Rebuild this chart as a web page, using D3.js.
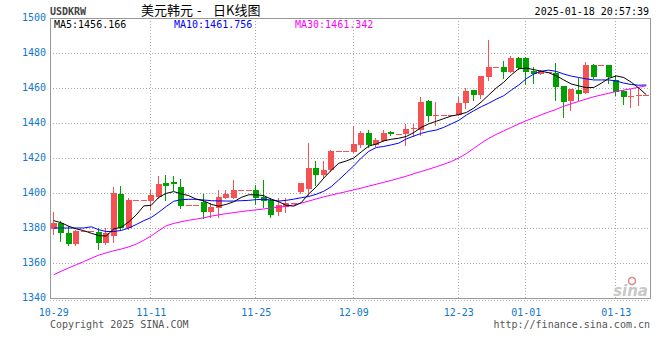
<!DOCTYPE html>
<html>
<head>
<meta charset="utf-8">
<script src="https://cdn.jsdelivr.net/npm/d3@7"></script>
<style>
  body { margin: 0; background: #fff; }
  svg { display: block; }
</style>
</head>
<body>
<div id="container"></div>
<script>
// DATA - daily candles, one slot per row (12-01 has no row)
const dates = [
  "10-29","10-30","10-31","11-01","11-02","11-03","11-04","11-05","11-06","11-07",
  "11-08","11-09","11-10","11-11","11-12","11-13","11-14","11-15","11-16","11-17",
  "11-18","11-19","11-20","11-21","11-22","11-23","11-24","11-25","11-26","11-27",
  "11-28","11-29","11-30","12-02","12-03","12-04","12-05","12-06","12-07","12-08",
  "12-09","12-10","12-11","12-12","12-13","12-14","12-15","12-16","12-17","12-18",
  "12-19","12-20","12-21","12-22","12-23","12-24","12-25","12-26","12-27","12-28",
  "12-29","12-30","12-31","01-01","01-02","01-03","01-04","01-05","01-06","01-07",
  "01-08","01-09","01-10","01-11","01-12","01-13","01-14","01-15","01-16","01-17"
];
const opens = [
  1379.4,1382.7,1377.3,1370.9,1378.5,1378.5,1377.7,1371.6,1375.4,1399.4,
  1380.0,1396.0,1396.0,1395.4,1397.9,1405.5,1406.2,1403.6,1393.1,1393.1,
  1394.9,1389.3,1391.4,1397.1,1397.0,1401.7,1401.7,1401.7,1397.5,1396.0,
  1389.3,1392.2,1394.1,1400.7,1402.3,1414.1,1410.3,1413.1,1424.0,1424.0,
  1423.6,1427.4,1434.5,1427.4,1429.9,1435.0,1433.7,1433.5,1436.4,1436.0,
  1452.6,1444.4,1444.6,1444.6,1444.6,1451.3,1458.9,1456.0,1466.5,1472.2,
  1472.2,1469.0,1477.3,1477.3,1469.9,1468.2,1469.0,1468.4,1461.1,1452.7,
  1458.9,1457.0,1473.1,1473.1,1473.1,1464.6,1458.5,1454.7,1455.6,1455.8
];
const highs = [
  1389.1,1384.0,1380.9,1378.9,1378.5,1378.5,1379.8,1379.8,1403.6,1404.0,
  1397.0,1396.0,1396.0,1401.7,1410.0,1410.3,1409.8,1408.0,1393.1,1393.1,
  1399.4,1394.3,1401.7,1401.7,1407.4,1401.7,1401.7,1404.6,1407.4,1397.0,
  1397.0,1397.0,1394.1,1406.0,1428.7,1418.5,1418.5,1424.5,1424.0,1424.0,
  1438.3,1435.5,1436.0,1431.4,1436.0,1435.5,1433.7,1439.4,1439.3,1455.0,
  1453.1,1452.2,1444.6,1444.6,1455.0,1460.2,1459.0,1467.0,1487.4,1472.2,
  1475.4,1478.5,1477.5,1477.5,1472.2,1470.5,1469.0,1474.1,1461.1,1459.5,
  1465.5,1475.0,1473.5,1473.1,1473.3,1467.4,1459.0,1459.3,1459.8,1456.0
];
const lows = [
  1376.6,1372.6,1370.3,1370.3,1378.5,1378.5,1367.8,1371.0,1372.2,1379.5,
  1379.5,1396.0,1396.0,1390.6,1397.0,1396.0,1401.5,1391.6,1393.1,1393.1,
  1385.9,1386.5,1386.5,1397.1,1397.0,1401.7,1401.7,1393.5,1392.2,1386.5,
  1387.4,1389.3,1394.1,1400.0,1399.0,1404.6,1409.3,1412.5,1424.0,1424.0,
  1423.6,1426.5,1426.3,1427.0,1429.9,1433.0,1433.7,1427.4,1432.7,1433.1,
  1441.1,1438.9,1444.6,1444.6,1444.6,1448.7,1453.1,1454.1,1464.6,1472.2,
  1465.5,1469.0,1471.0,1462.1,1462.9,1468.0,1469.0,1453.1,1443.6,1447.4,
  1453.1,1457.0,1466.0,1473.1,1462.7,1456.0,1450.9,1449.0,1450.3,1455.8
];
const closes = [
  1383.0,1377.4,1370.9,1378.5,1378.5,1378.5,1371.6,1377.0,1400.2,1380.0,
  1396.0,1396.0,1396.0,1398.9,1405.1,1404.2,1405.4,1392.4,1393.1,1393.1,
  1389.3,1392.2,1397.7,1399.4,1401.7,1401.7,1401.7,1397.0,1395.6,1387.4,
  1393.1,1394.1,1394.1,1405.5,1414.3,1410.3,1413.1,1424.0,1424.0,1424.0,
  1428.0,1434.5,1427.4,1430.3,1434.1,1433.5,1433.7,1436.4,1437.0,1452.2,
  1444.2,1444.8,1444.6,1444.6,1451.3,1458.3,1456.0,1466.9,1472.2,1472.2,
  1469.0,1477.3,1471.3,1469.3,1468.0,1470.0,1469.0,1460.7,1452.2,1459.3,
  1456.6,1473.1,1466.5,1473.1,1466.5,1457.9,1454.7,1455.2,1456.0,1456.0
];
const ma5 = [
  1384.2,1383.0,1381.0,1379.5,1378.5,1377.0,1375.7,1375.4,1379.5,1380.4,
  1383.5,1387.5,1392.6,1393.0,1397.5,1399.8,1400.8,1399.5,1398.5,1396.5,
  1395.5,1393.5,1392.5,1393.5,1395.0,1397.5,1399.0,1399.0,1398.5,1396.5,
  1395.0,1393.0,1392.5,1394.5,1399.5,1403.5,1408.5,1413.0,1417.0,1418.3,
  1420.0,1423.5,1426.8,1428.0,1429.8,1430.7,1431.3,1432.3,1434.5,1437.5,
  1439.5,1441.0,1442.5,1444.0,1444.8,1446.0,1448.5,1452.0,1456.0,1460.0,
  1463.3,1467.5,1471.0,1471.4,1470.5,1469.6,1468.7,1467.0,1464.6,1462.3,
  1461.2,1460.2,1460.3,1462.7,1465.5,1466.9,1466.0,1463.3,1460.0,1456.2
];
const ma10 = [
  1380.0,1380.0,1380.0,1380.0,1380.0,1380.7,1379.0,1378.0,1378.0,1378.6,
  1380.0,1382.0,1384.2,1386.0,1389.0,1392.3,1395.3,1396.2,1396.4,1396.4,
  1396.0,1395.6,1395.5,1395.4,1395.4,1395.6,1395.8,1396.2,1396.4,1396.0,
  1395.4,1395.8,1396.5,1397.3,1398.0,1399.3,1401.0,1403.6,1407.5,1411.5,
  1415.5,1420.0,1423.8,1426.0,1426.6,1427.5,1428.5,1430.9,1432.5,1434.1,
  1435.2,1436.0,1437.5,1439.5,1441.5,1444.5,1447.0,1449.3,1451.3,1453.6,
  1455.6,1458.8,1461.7,1465.3,1468.0,1469.6,1470.2,1469.5,1468.0,1466.8,
  1466.0,1465.2,1464.6,1464.6,1464.6,1464.0,1462.8,1462.0,1461.6,1461.7
];
const ma30 = [
  1353.3,1355.3,1357.2,1359.0,1360.8,1362.7,1364.5,1365.8,1367.0,1368.0,
  1369.2,1370.8,1373.0,1375.5,1378.5,1381.3,1382.6,1383.6,1384.4,1385.1,
  1385.8,1386.8,1387.5,1388.2,1388.8,1389.4,1389.9,1390.4,1390.9,1391.4,
  1391.9,1392.4,1393.2,1394.2,1395.4,1396.6,1397.8,1398.8,1399.8,1400.8,
  1401.8,1402.8,1403.9,1405.0,1406.1,1407.2,1408.4,1409.6,1411.0,1412.3,
  1413.6,1415.0,1416.4,1418.0,1420.0,1422.5,1425.5,1428.5,1431.2,1433.5,
  1435.5,1437.5,1439.5,1441.3,1443.0,1444.7,1446.3,1447.8,1449.6,1451.0,
  1452.4,1453.7,1455.0,1456.0,1457.0,1458.0,1458.8,1459.6,1460.4,1461.3
];
const tickDates = ["10-29","11-11","11-25","12-09","12-23","01-01","01-13"];
const yTicks = [1340,1360,1380,1400,1420,1440,1460,1480,1500];
const maNames = ["MA5:1456.166","MA10:1461.756","MA30:1461.342"];

const w = 660, h = 360;
const plot = {left: 50, right: 650, top: 18, bottom: 298};
const upColor = "#f55353", downColor = "#00a000";
const axisBlue = "#1177cc";
const mono = "'DejaVu Sans Mono', monospace";

const svg = d3.select('#container')
              .append('svg')
              .attr('width', w)
              .attr('height', h);

const x = d3.scaleBand()
            .domain(dates)
            .range([plot.left, plot.right])
            .padding(0);
const y = d3.scaleLinear()
            .domain([1340, 1500])
            .range([plot.bottom, plot.top]);
const cx = d => x(d) + x.bandwidth() / 2;

// GRID
svg.append('g')
   .selectAll('line')
   .data(yTicks.slice(1, -1)).enter()
   .append('line')
   .attr('x1', plot.left).attr('x2', plot.right)
   .attr('y1', d => Math.round(y(d)) + 0.5)
   .attr('y2', d => Math.round(y(d)) + 0.5)
   .attr('stroke', '#aaa')
   .attr('stroke-dasharray', '1,2');

svg.append('g')
   .selectAll('line')
   .data(tickDates.slice(1)).enter()
   .append('line')
   .attr('x1', d => Math.round(cx(d)) - 0.5)
   .attr('x2', d => Math.round(cx(d)) - 0.5)
   .attr('y1', plot.top).attr('y2', plot.bottom)
   .attr('stroke', '#aaa')
   .attr('stroke-dasharray', '1,2');

// dotted line under the frame
svg.append('line')
   .attr('x1', plot.left).attr('x2', plot.right)
   .attr('y1', plot.bottom + 2.5).attr('y2', plot.bottom + 2.5)
   .attr('stroke', '#bbb')
   .attr('stroke-dasharray', '1,2');

// FRAME
svg.append('rect')
   .attr('x', plot.left + 0.5)
   .attr('y', plot.top + 0.5)
   .attr('width', plot.right - plot.left)
   .attr('height', plot.bottom - plot.top)
   .attr('fill', 'none')
   .attr('stroke', '#999');

// Y AXIS LABELS
svg.append('g')
   .selectAll('text')
   .data(yTicks).enter()
   .append('text')
   .attr('x', 46)
   .attr('y', d => y(d) + 3)
   .attr('text-anchor', 'end')
   .attr('font-family', mono)
   .attr('font-size', 10)
   .attr('fill', axisBlue)
   .text(d => d);

// X AXIS LABELS
svg.append('g')
   .selectAll('text')
   .data(tickDates).enter()
   .append('text')
   .attr('x', d => cx(d))
   .attr('y', 316)
   .attr('text-anchor', 'middle')
   .attr('font-family', mono)
   .attr('font-size', 10)
   .attr('fill', axisBlue)
   .text(d => d);

// SINA watermark
const logo = svg.append('g').attr('fill', '#c8c8c8');
logo.append('circle').attr('cx', 632).attr('cy', 281).attr('r', 3.5)
    .attr('fill', 'none').attr('stroke', '#d88').attr('stroke-width', 1.5);
logo.append('text')
    .attr('x', 648).attr('y', 296)
    .attr('text-anchor', 'end')
    .attr('font-family', 'DejaVu Sans, sans-serif')
    .attr('font-size', 15)
    .attr('font-weight', 'bold')
    .attr('font-style', 'italic')
    .text('sina');

// CANDLES
const candles = svg.append('g').attr('shape-rendering', 'crispEdges');
dates.forEach((d, i) => {
  const o = opens[i], c = closes[i], hi = highs[i], lo = lows[i];
  const col = c >= o ? upColor : downColor;
  const mid = Math.round(cx(d));
  candles.append('line')
         .attr('x1', mid - 0.5).attr('x2', mid - 0.5)
         .attr('y1', Math.round(y(hi))).attr('y2', Math.round(y(lo)) + 1)
         .attr('stroke', col);
  const top = Math.round(y(Math.max(o, c)));
  const bot = Math.round(y(Math.min(o, c)));
  candles.append('rect')
         .attr('x', mid - 3)
         .attr('y', top)
         .attr('width', 6)
         .attr('height', Math.max(1, bot - top))
         .attr('fill', col);
});

// MOVING AVERAGES
const line = d3.line()
               .x((v, i) => cx(dates[i]))
               .y(v => y(v));
[[ma30, '#ff00ff'], [ma10, '#0000ff'], [ma5, '#000000']].forEach(([s, col]) => {
  svg.append('path')
     .datum(s)
     .attr('d', line)
     .attr('fill', 'none')
     .attr('stroke', col)
     .attr('stroke-width', 1);
});

// LEGEND
const legendCols = ['#000', '#0000ff', '#ff00ff'];
const legendX = [54, 174, 295];
maNames.forEach((t, i) => {
  svg.append('text')
     .attr('x', legendX[i])
     .attr('y', 28)
     .attr('font-family', mono)
     .attr('font-size', 10)
     .attr('fill', legendCols[i])
     .text(t);
});

// TITLES
svg.append('text')
   .attr('x', 50).attr('y', 15)
   .attr('font-family', mono)
   .attr('font-size', 10)
   .attr('font-weight', 'bold')
   .attr('fill', '#444')
   .text('USDKRW');

// title pieces placed one by one to keep the wide gaps round the dash
const titleParts = [['美元韩元', 141], ['-', 197], ['日K线图', 213]];
titleParts.forEach(([t, tx]) => {
  svg.append('text')
     .attr('x', tx).attr('y', 15)
     .attr('font-family', "'Noto Sans CJK SC', sans-serif")
     .attr('font-size', 13)
     .attr('fill', '#000')
     .text(t);
});

svg.append('text')
   .attr('x', 649).attr('y', 15)
   .attr('text-anchor', 'end')
   .attr('font-family', mono)
   .attr('font-size', 10)
   .attr('fill', '#000')
   .text('2025-01-18 20:57:39');

// FOOTER
svg.append('text')
   .attr('x', 50).attr('y', 328)
   .attr('font-family', mono)
   .attr('font-size', 10)
   .attr('fill', '#555')
   .text('Copyright 2025 SINA.COM');

svg.append('text')
   .attr('x', 650).attr('y', 328)
   .attr('text-anchor', 'end')
   .attr('font-family', mono)
   .attr('font-size', 10)
   .attr('fill', '#555')
   .text('http://finance.sina.com.cn');
</script>
</body>
</html>
